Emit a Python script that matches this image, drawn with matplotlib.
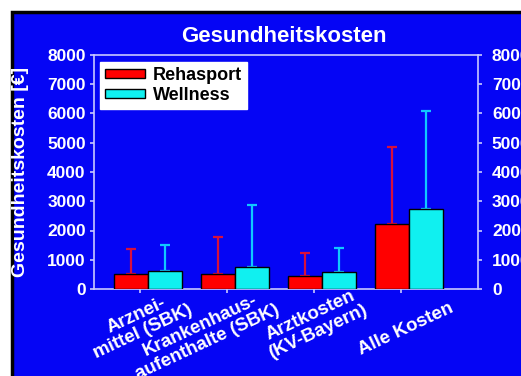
import matplotlib
matplotlib.use("Agg")
import matplotlib.pyplot as plt
from matplotlib.patches import Rectangle
import numpy as np

categories = ["Arznei-\nmittel (SBK)", "Krankenhaus-\naufenthalte (SBK)", "Arztkosten\n(KV-Bayern)", "Alle Kosten"]
rehasport = [500, 500, 450, 2210]
rehasport_err = [880, 1270, 790, 2650]
wellness = [615, 740, 590, 2720]
wellness_err = [885, 2130, 820, 3370]
yticks = [0, 1000, 2000, 3000, 4000, 5000, 6000, 7000, 8000]

plt.rcParams['font.family'] = ['Liberation Sans', 'DejaVu Sans']
plt.rcParams['font.weight'] = 'bold'

W, H = 521, 376
fig = plt.figure(figsize=(W/100, H/100), dpi=100, facecolor='white')
blue = '#0505f5'
lav = '#c8c8ff'
bg = Rectangle((11.5/W, -0.1), 1.2, 1 - 11.5/H + 0.1, transform=fig.transFigure,
               facecolor=blue, edgecolor='black', linewidth=2.5, zorder=-10)
fig.add_artist(bg)

ax = fig.add_axes([94/W, 1-289/H, (478-94)/W, (289-55)/H])
ax.set_facecolor(blue)
x = np.arange(len(categories))
w = 0.39
ax.bar(x - w/2, rehasport, w, color='#ff0000', edgecolor='black', linewidth=1, zorder=3, label='Rehasport')
ax.bar(x + w/2, wellness, w, color='#10f0f0', edgecolor='black', linewidth=1, zorder=3, label='Wellness')
ax.errorbar(x - w/2, rehasport, yerr=[np.zeros(4), rehasport_err], fmt='none',
            ecolor='#d8103c', elinewidth=1.6, capsize=3.8, capthick=1.6, zorder=2)
ax.errorbar(x + w/2, wellness, yerr=[np.zeros(4), wellness_err], fmt='none',
            ecolor='#10c8ff', elinewidth=1.6, capsize=3.8, capthick=1.6, zorder=2)
ax.set_xlim(-0.62, 3.79)
ax.set_ylim(0, 8000)
ax.set_yticks(yticks)
ax.set_yticklabels([str(v) for v in yticks], color='white', fontsize=12.5, fontweight='bold')
ax.set_xticks(x - 0.09)
ax.set_xticklabels([''] * len(categories))
for xi, lab in zip(x - 0.09, categories):
    two = '\n' in lab
    off = (48, -12) if two else (51, -18)
    ax.annotate(lab, xy=(xi, 0), xycoords=('data', 'axes fraction'), xytext=off,
                textcoords='offset pixels', rotation=25, ha='right', va='center',
                rotation_mode='anchor', multialignment='center', linespacing=1.05,
                color='white', fontsize=13.5, fontweight='bold', annotation_clip=False)
for s in ax.spines.values():
    s.set_color(lav)
    s.set_linewidth(1.2)
ax.tick_params(axis='both', colors=lav, length=3, width=1.2, labelcolor='white', pad=3)
ax.set_ylabel("Gesundheitskosten [€]", color='white', fontsize=14, fontweight='bold')
ax.yaxis.set_label_coords(-0.169, 0.5)

ax2 = ax.twinx()
ax2.set_ylim(0, 8000)
ax2.set_yticks(yticks)
ax2.set_yticklabels([str(v) for v in yticks], color='white', fontsize=12.5, fontweight='bold')
ax2.tick_params(axis='y', colors=lav, length=3, width=1.2, labelcolor='white', pad=7)
for s in ax2.spines.values():
    s.set_visible(False)

fig.text(284/W, 1-36/H, "Gesundheitskosten", color='white', fontsize=16, fontweight='bold',
         ha='center', va='center')

leg = ax.legend(loc='upper left', bbox_to_anchor=(6/384, 1-7/234), frameon=True, fancybox=False,
                framealpha=1, edgecolor='white', facecolor='white', fontsize=13,
                handlelength=2.2, handleheight=0.4, borderpad=0.28, labelspacing=0.15, handletextpad=0.45,
                borderaxespad=0)
for t in leg.get_texts():
    t.set_fontweight('bold')

fig.savefig("out.png", dpi=100, facecolor='white')
